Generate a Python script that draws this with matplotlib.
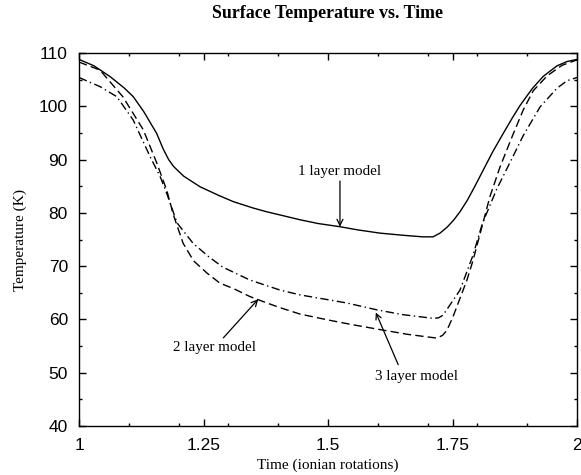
import matplotlib
matplotlib.use("Agg")
import matplotlib.pyplot as plt
from matplotlib.ticker import MultipleLocator, FixedLocator

# ---- data ----
x_one = [1.00, 1.03, 1.062, 1.09, 1.109, 1.13, 1.156, 1.169, 1.18, 1.19, 1.21, 1.243,
         1.28, 1.31, 1.35, 1.377, 1.404, 1.444, 1.48, 1.524, 1.56, 1.604, 1.65, 1.69,
         1.711, 1.725, 1.739, 1.752, 1.765, 1.78, 1.795, 1.811, 1.831, 1.85, 1.87,
         1.886, 1.91, 1.932, 1.96, 1.98, 2.0]
y_one = [108.8, 107.6, 105.6, 103.5, 101.8, 99.0, 94.9, 92.0, 90.0, 88.7, 86.9, 84.9,
         83.3, 82.1, 80.9, 80.2, 79.6, 78.7, 78.0, 77.4, 76.8, 76.2, 75.8, 75.5,
         75.5, 76.2, 77.3, 78.6, 80.2, 82.4, 85.0, 87.9, 91.5, 94.6, 97.8,
         100.2, 103.3, 105.6, 107.6, 108.4, 108.8]

x_two = [1.0, 1.042, 1.088, 1.129, 1.156, 1.176, 1.19, 1.209, 1.23, 1.257, 1.283, 1.31,
         1.343, 1.377, 1.404, 1.444, 1.5, 1.55, 1.604, 1.66, 1.718, 1.73, 1.739, 1.751,
         1.779, 1.791, 1.825, 1.845, 1.859, 1.871, 1.892, 1.912, 1.94, 1.97, 2.0]
y_two = [108.3, 106.8, 101.8, 95.6, 89.4, 84.3, 79.5, 74.3, 71.0, 68.7, 66.8, 65.8,
         64.3, 63.1, 62.2, 61.0, 59.9, 59.0, 58.1, 57.2, 56.5, 57.0, 58.0, 60.5,
         67.4, 71.0, 83.0, 88.5, 91.8, 94.6, 99.3, 102.9, 105.7, 107.7, 108.7]

x_three = [1.0, 1.042, 1.076, 1.109, 1.143, 1.163, 1.176, 1.197, 1.229, 1.26, 1.289,
           1.343, 1.404, 1.444, 1.5, 1.537, 1.598, 1.65, 1.711, 1.722, 1.731, 1.765,
           1.791, 1.81, 1.839, 1.871, 1.892, 1.926, 1.96, 1.98, 2.0]
y_three = [105.4, 103.7, 101.8, 97.4, 90.5, 86.8, 83.7, 78.1, 74.3, 71.8, 69.8,
           67.4, 65.5, 64.6, 63.7, 63.1, 61.8, 60.9, 60.2, 60.3, 60.8, 65.5,
           72.0, 78.0, 84.5, 90.5, 94.5, 99.9, 103.4, 104.8, 105.4]

x_ticks = [1, 1.25, 1.5, 1.75, 2]
x_tick_labels = ["1", "1.25", "1.5", "1.75", "2"]
y_ticks = [40, 50, 60, 70, 80, 90, 100, 110]

serif = ["Liberation Serif", "DejaVu Serif"]
sans = ["Liberation Sans", "DejaVu Sans"]

fig = plt.figure(figsize=(5.81, 4.75), dpi=100)
ax = fig.add_axes([79/581, 1-426/475, (577-79)/581, (426-53)/475])

lw = 1.0
ax.plot(x_one, y_one, color="black", lw=lw, linestyle="-")
ax.plot(x_two, y_two, color="black", lw=lw, linestyle=(0, (6, 3)))
ax.plot(x_three, y_three, color="black", lw=lw, linestyle=(0, (6, 2.5, 1, 2.5)))

ax.set_xlim(1, 2)
ax.set_ylim(40, 110)
ax.xaxis.set_major_locator(FixedLocator(x_ticks))
ax.set_xticklabels(x_tick_labels)
ax.xaxis.set_minor_locator(MultipleLocator(0.1))
ax.yaxis.set_major_locator(FixedLocator(y_ticks))
ax.yaxis.set_minor_locator(MultipleLocator(5))
ax.tick_params(which="both", direction="in", top=True, right=True, width=1.0)
ax.tick_params(which="major", length=5)
ax.tick_params(which="minor", length=2.5)
ax.tick_params(axis="x", which="major", pad=9)
ax.tick_params(axis="y", which="major", pad=8)
for lab in ax.get_xticklabels() + ax.get_yticklabels():
    lab.set_fontfamily(sans)
    lab.set_fontsize(12.5)
for s in ax.spines.values():
    s.set_linewidth(1.0)

fig.text((79+577)/2/581, 1-14/475, "Surface Temperature vs. Time", ha="center",
         va="center", fontfamily=serif, fontweight="bold", fontsize=12.9)
fig.text((79+577)/2/581, 1-465/475, "Time (ionian rotations)", ha="center",
         va="center", fontfamily=serif, fontsize=11)
fig.text(20/581, 1-240/475, "Temperature (K)", ha="center", va="center",
         rotation=90, fontfamily=serif, fontsize=11)

arrow = dict(arrowstyle="->", color="black", lw=0.9, shrinkA=0, shrinkB=0)
ax.annotate("1 layer model", xy=(1.524, 77.4), xytext=(1.524, 86.5),
            ha="center", va="bottom", fontfamily=serif, fontsize=10.8,
            arrowprops=arrow)
ax.annotate("2 layer model", xy=(1.36, 63.8), xytext=(1.273, 54.8),
            ha="center", va="center", fontfamily=serif, fontsize=10.8,
            arrowprops=arrow)
ax.annotate("", xy=(1.596, 61.3), xytext=(1.641, 51.5), arrowprops=arrow)
ax.text(1.677, 49.2, "3 layer model", ha="center", va="center",
        fontfamily=serif, fontsize=10.8)

fig.savefig("out.png", dpi=100)
